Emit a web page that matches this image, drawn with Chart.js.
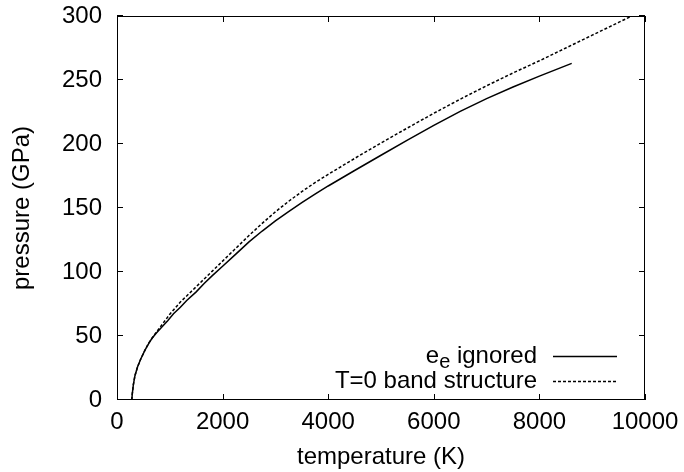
<!DOCTYPE html>
<html>
<head>
<meta charset="utf-8">
<script src="https://cdn.jsdelivr.net/npm/chart.js@4.4.1/dist/chart.umd.min.js"></script>
<style>
  html, body { margin: 0; padding: 0; background: #fff; }
  #wrap { width: 684px; height: 472px; }
</style>
</head>
<body>
<div id="wrap"><canvas id="chart"></canvas></div>
<script>
const ignoredT = [280, 290, 310, 340, 390, 450, 530, 600, 660, 750, 850, 960, 1070, 1200, 1320, 1500, 1650, 1800, 2000, 2250, 2500, 2750, 3000, 3250, 3500, 3750, 4000, 4500, 5000, 5500, 6000, 6500, 7000, 7500, 8000, 8612];
const ignoredP = [0, 5, 12, 19, 26, 32, 39, 44, 48, 52.5, 57, 62, 67.4, 72.5, 77.8, 84.5, 91, 97, 104.5, 114, 123.5, 132, 140, 147.2, 154.2, 160.8, 167.2, 179.3, 191.2, 203, 214.5, 225.5, 235.5, 244.5, 253, 263];

const bandT = [280, 290, 310, 340, 390, 450, 530, 600, 700, 800, 900, 1000, 1200, 1500, 1800, 2000, 2250, 2500, 2750, 3000, 3250, 3500, 3750, 4000, 4500, 5000, 5500, 6000, 6500, 7000, 7500, 8000, 8500, 9000, 9500, 9750];
const bandP = [0, 5, 12, 19, 26, 32, 39, 44.5, 50.5, 56, 61.5, 67, 76.5, 88.5, 100.5, 108.5, 118.5, 128.5, 138, 147, 155.2, 162.8, 169.8, 176.3, 188.7, 200.8, 212.5, 224, 235, 245.5, 255.5, 265, 275, 285, 295, 300];

const xTicks = [0, 2000, 4000, 6000, 8000, 10000];
const yTicks = [0, 50, 100, 150, 200, 250, 300];
const seriesLabels = ["e_e ignored", "T=0 band structure"];

const FONT = "'Liberation Sans', Arial, Helvetica, sans-serif";
const toPoints = (xs, ys) => xs.map((x, i) => ({ x: x, y: ys[i] }));

// gnuplot style frame: border on all sides, ticks pointing inward, mirrored
const frameTicks = {
  id: "frameTicks",
  afterDatasetsDraw(chart) {
    const { ctx, chartArea: a, scales } = chart;
    const len = 6;
    ctx.save();
    ctx.strokeStyle = "#000";
    ctx.lineWidth = 1;
    ctx.beginPath();
    xTicks.forEach((v) => {
      const x = Math.round(scales.x.getPixelForValue(v)) + 0.5;
      ctx.moveTo(x, a.bottom); ctx.lineTo(x, a.bottom - len);
      ctx.moveTo(x, a.top); ctx.lineTo(x, a.top + len);
    });
    yTicks.forEach((v) => {
      const y = Math.round(scales.y.getPixelForValue(v)) - 0.5;
      ctx.moveTo(a.left, y); ctx.lineTo(a.left + len, y);
      ctx.moveTo(a.right, y); ctx.lineTo(a.right - len, y);
    });
    ctx.stroke();
    ctx.strokeRect(a.left + 0.5, a.top + 0.5, a.right - a.left - 1, a.bottom - a.top - 1);
    ctx.restore();
  },
};

// key in the lower right corner: label right aligned, line sample after it
const keyBox = {
  id: "keyBox",
  afterDraw(chart) {
    const { ctx, chartArea: a } = chart;
    const size = 24;
    const textRight = a.right - 108;
    const lineX0 = a.right - 92;
    const lineX1 = a.right - 28;
    ctx.save();
    ctx.fillStyle = "#000";
    ctx.textBaseline = "middle";
    chart.data.datasets.forEach((ds, i) => {
      const y = a.bottom - 43.5 + i * 25;
      // split "a_b" into normal and subscript pieces
      const parts = [];
      const re = /_(.)/g;
      let last = 0, m;
      while ((m = re.exec(ds.label)) !== null) {
        if (m.index > last) parts.push({ t: ds.label.slice(last, m.index), sub: false });
        parts.push({ t: m[1], sub: true });
        last = re.lastIndex;
      }
      if (last < ds.label.length) parts.push({ t: ds.label.slice(last), sub: false });
      const fontFor = (p) => (p.sub ? Math.round(size * 0.85) : size) + "px " + FONT;
      let total = 0;
      parts.forEach((p) => { ctx.font = fontFor(p); total += ctx.measureText(p.t).width; });
      let x = textRight - total;
      ctx.textAlign = "left";
      parts.forEach((p) => {
        ctx.font = fontFor(p);
        ctx.fillText(p.t, x, p.sub ? y + 6 : y);
        x += ctx.measureText(p.t).width;
      });
      ctx.strokeStyle = ds.borderColor;
      ctx.lineWidth = ds.borderWidth;
      ctx.setLineDash(ds.borderDash || []);
      ctx.beginPath();
      ctx.moveTo(lineX0, y);
      ctx.lineTo(lineX1, y);
      ctx.stroke();
      ctx.setLineDash([]);
    });
    ctx.restore();
  },
};

Chart.defaults.font.family = FONT;
Chart.defaults.font.size = 24;
Chart.defaults.color = "#000";

new Chart(document.getElementById("chart"), {
  type: "scatter",
  data: {
    datasets: [
      {
        label: seriesLabels[0],
        data: toPoints(ignoredT, ignoredP),
        showLine: true,
        borderColor: "#000",
        borderWidth: 1.5,
        pointRadius: 0,
        tension: 0,
      },
      {
        label: seriesLabels[1],
        data: toPoints(bandT, bandP),
        showLine: true,
        borderColor: "#000",
        borderWidth: 1.5,
        borderDash: [3, 2],
        pointRadius: 0,
        tension: 0,
      },
    ],
  },
  options: {
    responsive: true,
    maintainAspectRatio: false,
    animation: false,
    layout: { padding: { top: 16, right: 39, left: 0, bottom: 0 } },
    plugins: {
      legend: { display: false },
      tooltip: { enabled: false },
    },
    scales: {
      x: {
        type: "linear",
        min: 0,
        max: 10000,
        afterBuildTicks: (s) => { s.ticks = xTicks.map((v) => ({ value: v })); },
        afterFit: (s) => { s.height = 72; s.paddingLeft = 0; s.paddingRight = 0; },
        grid: { display: false, drawTicks: false },
        border: { display: false },
        ticks: { padding: 8, maxRotation: 0, callback: (v) => String(v) },
        title: { display: true, text: "temperature (K)", padding: { top: 0, bottom: 0 } },
      },
      y: {
        type: "linear",
        min: 0,
        max: 300,
        afterBuildTicks: (s) => { s.ticks = yTicks.map((v) => ({ value: v })); },
        afterFit: (s) => { s.width = 117; s.paddingTop = 0; s.paddingBottom = 0; },
        grid: { display: false, drawTicks: false },
        border: { display: false },
        ticks: { padding: 15, callback: (v) => String(v) },
        title: { display: true, text: "pressure (GPa)", padding: { top: 8, bottom: 0 } },
      },
    },
  },
  plugins: [frameTicks, keyBox],
});
</script>
</body>
</html>
